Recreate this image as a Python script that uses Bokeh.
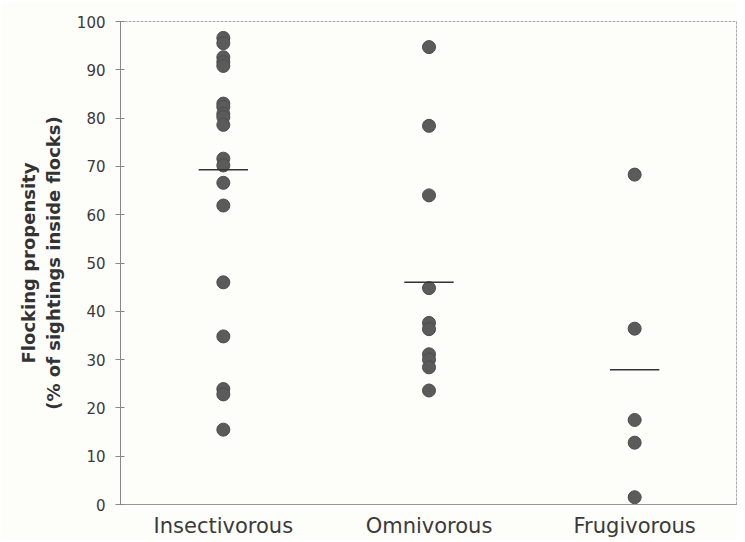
from bokeh.plotting import figure
from bokeh.models import Range1d, FixedTicker, ColumnDataSource
from bokeh.embed import file_html
from bokeh.resources import INLINE

categories = ["Insectivorous", "Omnivorous", "Frugivorous"]
insectivorous = [96.6, 95.5, 92.6, 91.6, 90.8, 83.0, 82.3, 80.9, 80.2, 78.6,
                 71.6, 70.2, 66.6, 61.9, 46.0, 34.8, 23.9, 22.8, 15.5]
omnivorous = [94.7, 78.4, 64.0, 44.8, 37.6, 36.3, 31.1, 30.0, 28.4, 23.6]
frugivorous = [68.3, 36.4, 17.5, 12.8, 1.5]
group_means = [69.3, 46.0, 27.9]
y_ticks = [0, 10, 20, 30, 40, 50, 60, 70, 80, 90, 100]

series = [insectivorous, omnivorous, frugivorous]
xs, ys = [], []
for i, vals in enumerate(series):
    xs += [i + 1] * len(vals)
    ys += vals

bg = "#fdfdfa"
p = figure(width=737, height=540, output_backend="svg", toolbar_location=None,
           x_range=Range1d(0.5, 3.5), y_range=Range1d(0, 100),
           min_border_left=120, min_border_top=21, min_border_bottom=36,
           min_border_right=0, background_fill_color=bg, border_fill_color=bg)
p.grid.visible = False
p.outline_line_color = "#aaaaaa"
p.outline_line_dash = "3 1"

src = ColumnDataSource(dict(x=xs, y=ys))
p.scatter("x", "y", source=src, size=13, fill_color="#5b5b5b", line_color="#4d4d4d")

mx = [i + 1 for i in range(len(group_means))]
p.segment(x0=[m - 0.12 for m in mx], x1=[m + 0.12 for m in mx],
          y0=group_means, y1=group_means, line_color="#333333", line_width=1.6)

# axes
p.yaxis.ticker = FixedTicker(ticks=y_ticks)
p.yaxis.minor_tick_line_color = None
p.yaxis.major_tick_out = 5
p.yaxis.major_tick_in = 4
p.yaxis.major_tick_line_color = "#888888"
p.yaxis.axis_line_color = "#888888"
p.yaxis.major_label_text_font = "DejaVu Sans"
p.yaxis.major_label_text_font_size = "15px"
p.yaxis.major_label_text_color = "#3a3a3a"
p.yaxis.major_label_standoff = 10
p.yaxis.axis_label = "Flocking propensity\n(% of sightings inside flocks)"
p.yaxis.axis_label_text_font = "DejaVu Sans"
p.yaxis.axis_label_text_font_style = "bold"
p.yaxis.axis_label_text_font_size = "18px"
p.yaxis.axis_label_text_color = "#333333"
p.yaxis.axis_label_standoff = 10

p.xaxis.ticker = FixedTicker(ticks=[1, 2, 3])
p.xaxis.major_label_overrides = {i + 1: c for i, c in enumerate(categories)}
p.xaxis.major_tick_line_color = None
p.xaxis.minor_tick_line_color = None
p.xaxis.axis_line_color = "#999999"
p.xaxis.major_label_text_font = "DejaVu Sans"
p.xaxis.major_label_text_font_size = "21px"
p.xaxis.major_label_text_color = "#3a3a3a"
p.xaxis.major_label_standoff = 3

open("out.html", "w").write(file_html(p, INLINE))
